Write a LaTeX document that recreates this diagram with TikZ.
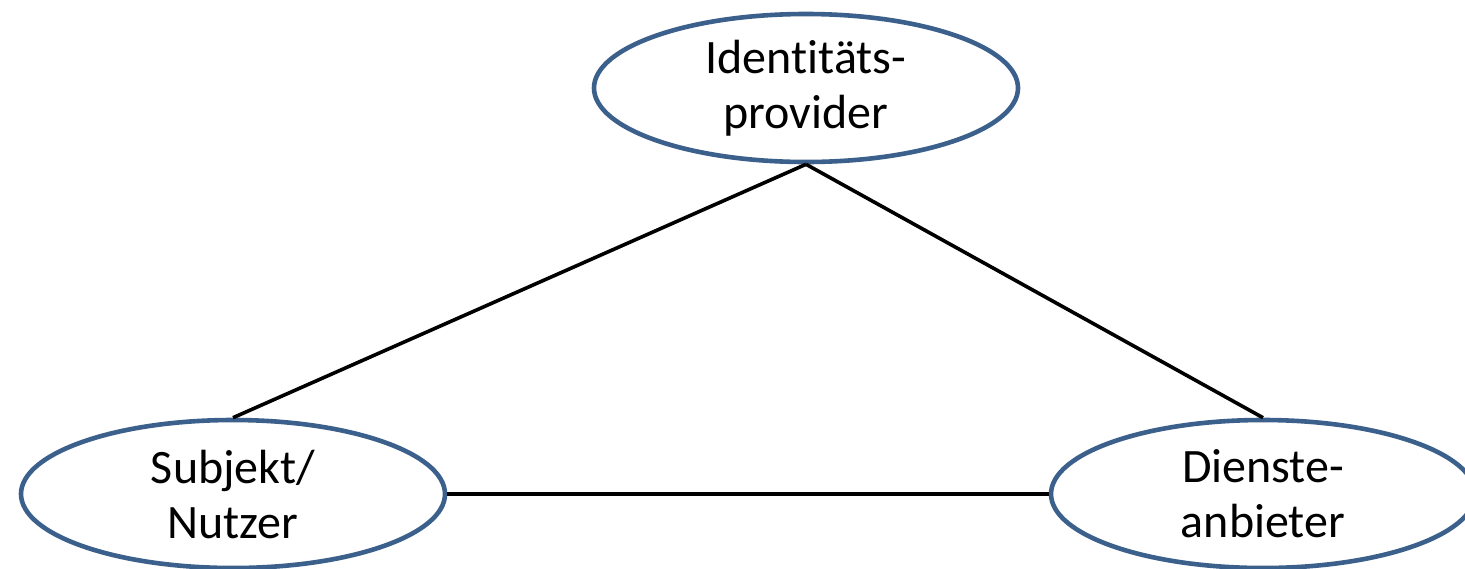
\documentclass[tikz,border=0pt]{standalone}
\usepackage{fontspec}
\setmainfont[Ligatures=NoCommon]{Carlito}
\usetikzlibrary{shapes.geometric}
\definecolor{ellblue}{RGB}{60,96,140}
\begin{document}
\begin{tikzpicture}[x=0.5pt,y=-0.5pt,
  party/.style={ellipse, draw=ellblue, line width=2.3pt, fill=white,
    minimum width=212pt, minimum height=74pt, inner sep=0pt,
    align=center, font=\fontsize{24}{27.5}\selectfont},
  link/.style={draw=black, line width=1.8pt}]
\useasboundingbox (0,0) rectangle (1465,568);
\node[party] (idp) at (806,88) {Identitäts-\\provider};
\node[party] (user) at (233,494) {Subjekt/\\Nutzer};
\node[party] (sp) at (1263,494) {Dienste-\\anbieter};
\draw[link] (idp.south) -- (user.north);
\draw[link] (idp.south) -- (sp.north);
\draw[link] (user.east) -- (sp.west);
\end{tikzpicture}
\end{document}
